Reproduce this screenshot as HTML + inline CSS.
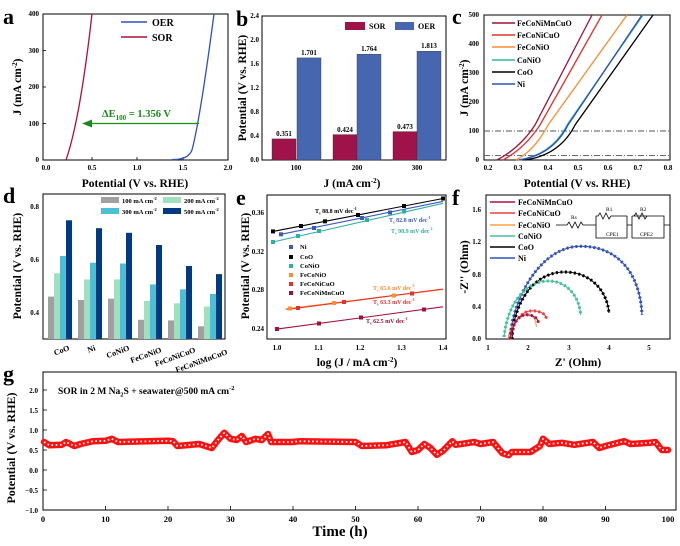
<!DOCTYPE html>
<html><head><meta charset="utf-8"><style>
html,body{margin:0;padding:0;background:#fff}
svg{display:block;font-family:"Liberation Serif",serif;font-weight:bold}
.t{font-size:7px}
.ti{font-size:11.5px}
.L{font-size:22px}
</style></head><body>
<svg width="680" height="546" viewBox="0 0 680 546" xmlns="http://www.w3.org/2000/svg">
<!-- Panel a -->
<text x="3" y="24" class="L">a</text>
<rect x="43" y="14" width="185" height="146" fill="none" stroke="#000" stroke-width="1"/>
<g class="t" text-anchor="end">
<text x="39" y="16">400</text><text x="39" y="53">300</text><text x="39" y="89">200</text><text x="39" y="126">100</text><text x="39" y="162">0</text></g>
<g stroke="#000" stroke-width="0.8"><line x1="43" y1="50.5" x2="46" y2="50.5"/><line x1="43" y1="87" x2="46" y2="87"/><line x1="43" y1="123.5" x2="46" y2="123.5"/>
<line x1="92" y1="160" x2="92" y2="157"/><line x1="137" y1="160" x2="137" y2="157"/><line x1="183" y1="160" x2="183" y2="157"/></g>
<g class="t" text-anchor="middle"><text x="46" y="170">0.0</text><text x="92" y="170">0.5</text><text x="137" y="170">1.0</text><text x="183" y="170">1.5</text><text x="228" y="170">2.0</text></g>
<text x="135" y="187" class="ti" text-anchor="middle">Potential (V vs. RHE)</text>
<text transform="translate(21,87) rotate(-90)" class="ti" text-anchor="middle">J (mA cm<tspan dy="-4" font-size="7">-2</tspan><tspan dy="4">)</tspan></text>
<path d="M66,160 Q80,120 92,14" fill="none" stroke="#b0103a" stroke-width="1.3"/>
<path d="M172,159.5 Q188,160 192,150 Q200,120 214,14" fill="none" stroke="#3050c0" stroke-width="1.3"/>
<line x1="121" y1="22" x2="147" y2="22" stroke="#3050c0" stroke-width="1.5"/><text x="152" y="26" font-size="10">OER</text>
<line x1="121" y1="37" x2="147" y2="37" stroke="#b0103a" stroke-width="1.5"/><text x="152" y="41" font-size="10">SOR</text>
<line x1="199" y1="123.5" x2="88" y2="123.5" stroke="#1a8a1a" stroke-width="1.3"/>
<polygon points="82,123.5 92,119.5 92,127.5" fill="#1a8a1a"/>
<text x="102" y="117" fill="#1a8a1a" font-size="10.5">ΔE<tspan dy="3" font-size="7">100</tspan><tspan dy="-3"> = 1.356 V</tspan></text>

<!-- Panel b -->
<text x="236" y="26" class="L">b</text>
<rect x="262" y="16" width="184" height="144" fill="none" stroke="#000"/>
<g class="t" text-anchor="end" font-size="6.5">
<text x="259" y="18">2.4</text><text x="259" y="42">2.0</text><text x="259" y="66">1.6</text><text x="259" y="90">1.2</text><text x="259" y="114">0.8</text><text x="259" y="138">0.4</text><text x="259" y="162">0.0</text></g>
<g fill="#a0124a" stroke="#333" stroke-width="0.4"><rect x="272" y="138.9" width="24" height="21.1"/><rect x="333" y="134.6" width="24" height="25.4"/><rect x="393" y="131.6" width="24" height="28.4"/></g>
<g fill="#4666b0" stroke="#333" stroke-width="0.4"><rect x="297" y="57.9" width="24" height="102.1"/><rect x="357" y="54.2" width="24" height="105.8"/><rect x="417" y="51.2" width="24" height="108.8"/></g>
<g class="t" text-anchor="middle" font-size="6.5"><text x="284" y="136">0.351</text><text x="309" y="55">1.701</text><text x="345" y="132">0.424</text><text x="369" y="51">1.764</text><text x="405" y="129">0.473</text><text x="429" y="48">1.813</text>
<text x="296" y="170">100</text><text x="357" y="170">200</text><text x="417" y="170">300</text></g>
<rect x="345" y="22" width="20" height="8" fill="#a0124a"/><text x="369" y="29" font-size="8">SOR</text>
<rect x="395" y="22" width="19" height="8" fill="#4666b0"/><text x="418" y="29" font-size="8">OER</text>
<text x="352" y="187" class="ti" text-anchor="middle">J (mA cm<tspan dy="-4" font-size="7">-2</tspan><tspan dy="4">)</tspan></text>
<text transform="translate(246,88) rotate(-90)" class="ti" text-anchor="middle">Potential (V vs. RHE)</text>

<!-- Panel c -->
<text x="452" y="24" class="L">c</text>
<rect x="484" y="15" width="186" height="145" fill="none" stroke="#000"/>
<g class="t" text-anchor="end"><text x="479" y="17">500</text><text x="479" y="46">400</text><text x="479" y="75">300</text><text x="479" y="104">200</text><text x="479" y="133">100</text><text x="479" y="162">0</text></g>
<g class="t" text-anchor="middle"><text x="488" y="170">0.2</text><text x="518" y="170">0.3</text><text x="548" y="170">0.4</text><text x="578" y="170">0.5</text><text x="608" y="170">0.6</text><text x="638" y="170">0.7</text><text x="668" y="170">0.8</text></g>
<text x="577" y="187" class="ti" text-anchor="middle">Potential (V vs. RHE)</text>
<text transform="translate(468,88) rotate(-90)" class="ti" text-anchor="middle">J (mA cm<tspan dy="-4" font-size="7">-2</tspan><tspan dy="4">)</tspan></text>
<g stroke="#555" stroke-width="0.9" stroke-dasharray="6 2 1 2"><line x1="484" y1="131" x2="670" y2="131"/><line x1="484" y1="155.6" x2="670" y2="155.6"/></g>
<g fill="none" stroke-width="1.3">
<path d="M525,160 Q560,155 575,125 L653,15" stroke="#000"/>
<path d="M518,160 Q552,155 567,125 L643,15" stroke="#30b8a0"/>
<path d="M519,160 Q553,155 568,125 L642,15" stroke="#2850c0"/>
<path d="M516,160 Q535,150 548,125 L627,15" stroke="#ff8c30"/>
<path d="M503,160 Q525,148 540,125 L602,15" stroke="#e8302a"/>
<path d="M497,160 Q520,148 535,125 L592,15" stroke="#a0103a"/></g>
<g stroke-width="1.5"><line x1="492" y1="23" x2="515" y2="23" stroke="#a0103a"/><line x1="492" y1="35" x2="515" y2="35" stroke="#e8302a"/><line x1="492" y1="47" x2="515" y2="47" stroke="#ff8c30"/><line x1="492" y1="60" x2="515" y2="60" stroke="#30b8a0"/><line x1="492" y1="72" x2="515" y2="72" stroke="#000"/><line x1="492" y1="84" x2="515" y2="84" stroke="#2850c0"/></g>
<g font-size="8"><text x="517" y="26">FeCoNiMnCuO</text><text x="517" y="38">FeCoNiCuO</text><text x="517" y="50">FeCoNiO</text><text x="517" y="63">CoNiO</text><text x="517" y="75">CoO</text><text x="517" y="87">Ni</text></g>

<!-- Panel d -->
<text x="3" y="203" class="L">d</text>
<rect x="43" y="194" width="182" height="145" fill="none" stroke="#000"/>
<g class="t" text-anchor="end"><text x="39" y="209">0.8</text><text x="39" y="262">0.6</text><text x="39" y="315">0.4</text></g>
<g>
<g fill="#a0a0a0"><rect x="48" y="296.6" width="6" height="42.4"/><rect x="78" y="300" width="6" height="39"/><rect x="108" y="298.7" width="6" height="40.3"/><rect x="138" y="319.8" width="6" height="19.2"/><rect x="168" y="320.4" width="6" height="18.6"/><rect x="198" y="326.3" width="6" height="12.7"/></g>
<g fill="#9fe0c0"><rect x="54" y="273.3" width="6" height="65.7"/><rect x="84" y="279.4" width="6" height="59.6"/><rect x="114" y="279.4" width="6" height="59.6"/><rect x="144" y="300.9" width="6" height="38.1"/><rect x="174" y="303.3" width="6" height="35.7"/><rect x="204" y="306.6" width="6" height="32.4"/></g>
<g fill="#4bbfd6"><rect x="60" y="256" width="6" height="83"/><rect x="90" y="262.7" width="6" height="76.3"/><rect x="120" y="263.5" width="6" height="75.5"/><rect x="150" y="284.4" width="6" height="54.6"/><rect x="180" y="289.3" width="6" height="49.7"/><rect x="210" y="294" width="6" height="45"/></g>
<g fill="#003a80"><rect x="66" y="220.3" width="6" height="118.7"/><rect x="96" y="228.2" width="6" height="110.8"/><rect x="126" y="232.8" width="6" height="106.2"/><rect x="156" y="245" width="6" height="94"/><rect x="186" y="266" width="6" height="73"/><rect x="216" y="274.1" width="6" height="64.9"/></g>
</g>
<rect x="101" y="197" width="18" height="6" fill="#a0a0a0"/><text x="122" y="203" font-size="6.5">100 mA cm<tspan dy="-3" font-size="4.5">-2</tspan></text>
<rect x="163" y="197" width="18" height="6" fill="#9fe0c0"/><text x="184" y="203" font-size="6.5">200 mA cm<tspan dy="-3" font-size="4.5">-2</tspan></text>
<rect x="101" y="208" width="18" height="6" fill="#4bbfd6"/><text x="122" y="214" font-size="6.5">300 mA cm<tspan dy="-3" font-size="4.5">-2</tspan></text>
<rect x="163" y="208" width="18" height="6" fill="#003a80"/><text x="184" y="214" font-size="6.5">500 mA cm<tspan dy="-3" font-size="4.5">-2</tspan></text>
<g font-size="8" text-anchor="end">
<text transform="translate(70,350) rotate(-20)">CoO</text><text transform="translate(96,350) rotate(-20)">Ni</text><text transform="translate(130,350) rotate(-20)">CoNiO</text><text transform="translate(162,352) rotate(-20)">FeCoNiO</text><text transform="translate(196,352) rotate(-20)">FeCoNiCuO</text><text transform="translate(228,354) rotate(-20)">FeCoNiMnCuO</text></g>
<text transform="translate(21,266) rotate(-90)" class="ti" text-anchor="middle">Potential (V vs. RHE)</text>

<!-- Panel e -->
<text x="236" y="205" class="L">e</text>
<rect x="267" y="195" width="179" height="144" fill="none" stroke="#000"/>
<g class="t" text-anchor="end" font-size="6.5"><text x="264" y="215">0.36</text><text x="264" y="254">0.32</text><text x="264" y="292">0.28</text><text x="264" y="331">0.24</text></g>
<g class="t" text-anchor="middle"><text x="277" y="350">1.0</text><text x="318.5" y="350">1.1</text><text x="360" y="350">1.2</text><text x="401.5" y="350">1.3</text><text x="443" y="350">1.4</text></g>
<text x="357" y="366" class="ti" text-anchor="middle">log (J / mA cm<tspan dy="-4" font-size="7">-2</tspan><tspan dy="4">)</tspan></text>
<text transform="translate(249,266) rotate(-90)" class="ti" text-anchor="middle">Potential (V vs. RHE)</text>
<g stroke-width="1.1">
<line x1="273" y1="231.4" x2="443" y2="198.5" stroke="#000"/>
<line x1="281" y1="234.3" x2="443" y2="201.4" stroke="#3a5ac0"/>
<line x1="273" y1="242" x2="443" y2="203.3" stroke="#30b0a0"/>
<line x1="285" y1="309" x2="443" y2="289.4" stroke="#ff8c30"/>
<line x1="287" y1="309.5" x2="443" y2="289" stroke="#e8302a"/>
<line x1="277" y1="329.1" x2="443" y2="306.8" stroke="#a0103a"/></g>
<g fill="#000"><rect x="271" y="229.4" width="4" height="4"/><rect x="299" y="224" width="4" height="4"/><rect x="323" y="219.3" width="4" height="4"/><rect x="356" y="213" width="4" height="4"/><rect x="402" y="204" width="4" height="4"/><rect x="441" y="196.5" width="4" height="4"/></g>
<g fill="#3a5ac0"><rect x="279" y="232.3" width="4" height="4"/><rect x="312" y="226" width="4" height="4"/><rect x="360" y="216" width="4" height="4"/><rect x="388" y="210.5" width="4" height="4"/></g>
<g fill="#30b0a0"><rect x="271" y="240" width="4" height="4"/><rect x="296" y="234" width="4" height="4"/><rect x="317" y="229" width="4" height="4"/><rect x="365" y="218" width="4" height="4"/><rect x="402" y="209.5" width="4" height="4"/></g>
<g fill="#ff8c30"><rect x="288" y="306.5" width="4" height="4"/><rect x="332" y="301" width="4" height="4"/><rect x="392" y="293.5" width="4" height="4"/></g>
<g fill="#e8302a"><rect x="296" y="306" width="4" height="4"/><rect x="342" y="300" width="4" height="4"/><rect x="410" y="291.5" width="4" height="4"/></g>
<g fill="#a0103a"><rect x="275" y="327" width="4" height="4"/><rect x="317" y="321.5" width="4" height="4"/><rect x="359" y="315.5" width="4" height="4"/><rect x="422" y="307.5" width="4" height="4"/></g>
<g font-size="6.5">
<rect x="289" y="245" width="4" height="4" fill="#3a5ac0"/><text x="300" y="249">Ni</text>
<rect x="289" y="255" width="4" height="4" fill="#000"/><text x="300" y="259">CoO</text>
<rect x="289" y="264" width="4" height="4" fill="#30b0a0"/><text x="300" y="268">CoNiO</text>
<rect x="289" y="273" width="4" height="4" fill="#ff8c30"/><text x="300" y="277">FeCoNiO</text>
<rect x="289" y="282" width="4" height="4" fill="#e8302a"/><text x="300" y="286">FeCoNiCuO</text>
<rect x="289" y="291" width="4" height="4" fill="#a0103a"/><text x="300" y="295">FeCoNiMnCuO</text></g>
<g font-size="6"><text x="315" y="213">T<tspan dy="1.5" font-size="4">s</tspan><tspan dy="-1.5"> 88.8 mV dec</tspan><tspan dy="-3" font-size="4">-1</tspan></text>
<text x="389" y="222" fill="#3a5ac0">T<tspan dy="1.5" font-size="4">s</tspan><tspan dy="-1.5"> 82.8 mV dec</tspan><tspan dy="-3" font-size="4">-1</tspan></text>
<text x="391" y="233" fill="#30b0a0">T<tspan dy="1.5" font-size="4">s</tspan><tspan dy="-1.5"> 98.9 mV dec</tspan><tspan dy="-3" font-size="4">-1</tspan></text>
<text x="373" y="290" fill="#ff8c30">T<tspan dy="1.5" font-size="4">s</tspan><tspan dy="-1.5"> 65.6 mV dec</tspan><tspan dy="-3" font-size="4">-1</tspan></text>
<text x="373" y="304" fill="#e8302a">T<tspan dy="1.5" font-size="4">s</tspan><tspan dy="-1.5"> 63.3 mV dec</tspan><tspan dy="-3" font-size="4">-1</tspan></text>
<text x="366" y="323" fill="#a0103a">T<tspan dy="1.5" font-size="4">s</tspan><tspan dy="-1.5"> 62.5 mV dec</tspan><tspan dy="-3" font-size="4">-1</tspan></text></g>

<!-- Panel f -->
<text x="452" y="205" class="L">f</text>
<rect x="486" y="195" width="184" height="144" fill="none" stroke="#000"/>
<g class="t" text-anchor="end"><text x="481" y="212">1.6</text><text x="481" y="244">1.2</text><text x="481" y="277">0.8</text><text x="481" y="309">0.4</text><text x="481" y="341">0.0</text></g>
<g class="t" text-anchor="middle"><text x="488" y="350">1</text><text x="528" y="350">2</text><text x="569" y="350">3</text><text x="609" y="350">4</text><text x="649" y="350">5</text></g>
<text x="578" y="366" class="ti" text-anchor="middle">Z' (Ohm)</text>
<text transform="translate(468,267) rotate(-90)" class="ti" text-anchor="middle">-Z'' (Ohm)</text>
<g fill="none" stroke-width="1.1">
<path d="M510,339 C512,300 540,246 580.7,246.3 C615,246 640,270 642,315" stroke="#3050c0"/>
<path d="M512,339 C514,300 535,272 564.6,272 C590,272 607,290 609,313" stroke="#000"/>
<path d="M504,337 C508,300 528,281 548.5,281 C566,281 579,295 580.7,315" stroke="#40c0a0"/>
<path d="M508,339 C510,325 518,314.8 528.3,314.8 C533,314.8 536,320 536.4,327" stroke="#ffa040"/>
<path d="M510,339 C512,325 520,310.8 532.3,310.8 C540,310.8 546,314 546.4,319" stroke="#f04040"/>
<path d="M510,339 C512,325 518,314.8 526.3,314.8 C533,314.8 538,318 538.4,323" stroke="#b01040"/>
</g>
<g fill="none" stroke-width="3" stroke-dasharray="2 2.5">
<path d="M510,339 C512,300 540,246 580.7,246.3 C615,246 640,270 642,315" stroke="#3050c0"/>
<path d="M512,339 C514,300 535,272 564.6,272 C590,272 607,290 609,313" stroke="#000"/>
<path d="M504,337 C508,300 528,281 548.5,281 C566,281 579,295 580.7,315" stroke="#40c0a0"/>
<path d="M510,339 C512,325 520,310.8 532.3,310.8 C540,310.8 546,314 546.4,319" stroke="#f04040"/>
<path d="M510,339 C512,325 518,314.8 526.3,314.8 C533,314.8 538,318 538.4,323" stroke="#b01040"/>
</g>
<g stroke-width="1.5"><line x1="490" y1="202" x2="515" y2="202" stroke="#b01040"/><line x1="490" y1="213" x2="515" y2="213" stroke="#f04040"/><line x1="490" y1="225" x2="515" y2="225" stroke="#ffa040"/><line x1="490" y1="236" x2="515" y2="236" stroke="#40c0a0"/><line x1="490" y1="247" x2="515" y2="247" stroke="#000"/><line x1="490" y1="258" x2="515" y2="258" stroke="#3050c0"/></g>
<g font-size="8"><text x="518" y="205">FeCoNiMnCuO</text><text x="518" y="216">FeCoNiCuO</text><text x="518" y="228">FeCoNiO</text><text x="518" y="239">CoNiO</text><text x="518" y="250">CoO</text><text x="518" y="261">Ni</text></g>
<g fill="none" stroke="#000" stroke-width="0.8">
<path d="M556,225 L567,225 l2,-3 l3,6 l3,-6 l3,6 l3,-6 l2,3 L596,225 M596,225 L596,216 L598,216 l2,-3 l3,6 l3,-6 l3,6 l2,-3 L627,216 M596,225 L596,238 L627,238 M627,216 L627,238 M627,225 L632,225 M632,216 L632,238 L664,238 L664,216 L632,216 M634,216 l2,-3 l3,6 l3,-6 l3,6 l2,-3 M664,225 L670,225"/></g>
<g font-size="5.5" font-weight="normal"><text x="571" y="219">Rs</text><text x="606" y="211">R1</text><text x="606" y="236">CPE1</text><text x="640" y="211">R2</text><text x="640" y="236">CPE2</text></g>

<!-- Panel g -->
<text x="3" y="381" class="L">g</text>
<rect x="43" y="372" width="633" height="138" fill="none" stroke="#000"/>
<g class="t" text-anchor="end" font-size="8"><text x="38" y="393">2.0</text><text x="38" y="413">1.5</text><text x="38" y="433">1.0</text><text x="38" y="453">0.5</text><text x="38" y="473">0.0</text><text x="38" y="493">−0.5</text><text x="38" y="513">−1.0</text></g>
<g stroke="#000" stroke-width="0.8"><line x1="43" y1="390" x2="47" y2="390"/><line x1="43" y1="410" x2="47" y2="410"/><line x1="43" y1="430" x2="47" y2="430"/><line x1="43" y1="450" x2="47" y2="450"/><line x1="43" y1="470" x2="47" y2="470"/><line x1="43" y1="490" x2="47" y2="490"/>
<line x1="105.5" y1="510" x2="105.5" y2="506"/><line x1="168" y1="510" x2="168" y2="506"/><line x1="230.5" y1="510" x2="230.5" y2="506"/><line x1="293" y1="510" x2="293" y2="506"/><line x1="355.5" y1="510" x2="355.5" y2="506"/><line x1="418" y1="510" x2="418" y2="506"/><line x1="480.5" y1="510" x2="480.5" y2="506"/><line x1="543" y1="510" x2="543" y2="506"/><line x1="605.5" y1="510" x2="605.5" y2="506"/></g>
<g font-size="8.5" text-anchor="middle"><text x="43" y="522">0</text><text x="105.5" y="522">10</text><text x="168" y="522">20</text><text x="230.5" y="522">30</text><text x="293" y="522">40</text><text x="355.5" y="522">50</text><text x="418" y="522">60</text><text x="480.5" y="522">70</text><text x="543" y="522">80</text><text x="605.5" y="522">90</text><text x="668" y="522">100</text></g>
<text x="340" y="536" font-size="15" text-anchor="middle">Time (h)</text>
<text transform="translate(15,448) rotate(-90)" font-size="12" text-anchor="middle">Potential (V vs. RHE)</text>
<text x="58" y="394" font-size="9.5">SOR in 2 M Na<tspan dy="2.5" font-size="6.5">2</tspan><tspan dy="-2.5">S + seawater@500 mA cm</tspan><tspan dy="-4" font-size="6.5">-2</tspan></text>
<polyline fill="none" stroke="#ff1010" stroke-width="6.5" stroke-linejoin="round" stroke-linecap="round" points="44,442 49.3,445.2 61.8,444.8 66.1,442 74.3,446 80.5,444 93,441.2 105.5,440.8 111.8,438.8 118,442 168,440.8 173,441.2 177.4,446 199.3,444 205.5,446 211.8,448 218,440 224.3,432.8 230.5,438.8 236.8,440 241.8,436 246.1,442 255.5,438.8 261.8,440 268,434 271.1,442 293,442 299.3,441.2 355.5,442 361.8,446 386.8,445.2 405.5,442 411.8,452 418,450 424.3,444 430.5,448 436.8,454.8 443,450.8 452.4,441.2 455.5,444.8 474.3,442 480.5,444 493,442 498,448 502.4,453.2 508.6,455.2 511.8,452 530.5,452 539.9,446 543,438.8 549.3,444 561.8,442.8 574.3,444.8 593,442 599.3,448 605.5,446 624.3,441.2 630.5,444 649.3,442.8 655.5,442 661.8,450 668,450"/>
<polyline fill="none" stroke="#fff" stroke-width="1.8" stroke-dasharray="1.6 2.6" stroke-linejoin="round" points="44,442 49.3,445.2 61.8,444.8 66.1,442 74.3,446 80.5,444 93,441.2 105.5,440.8 111.8,438.8 118,442 168,440.8 173,441.2 177.4,446 199.3,444 205.5,446 211.8,448 218,440 224.3,432.8 230.5,438.8 236.8,440 241.8,436 246.1,442 255.5,438.8 261.8,440 268,434 271.1,442 293,442 299.3,441.2 355.5,442 361.8,446 386.8,445.2 405.5,442 411.8,452 418,450 424.3,444 430.5,448 436.8,454.8 443,450.8 452.4,441.2 455.5,444.8 474.3,442 480.5,444 493,442 498,448 502.4,453.2 508.6,455.2 511.8,452 530.5,452 539.9,446 543,438.8 549.3,444 561.8,442.8 574.3,444.8 593,442 599.3,448 605.5,446 624.3,441.2 630.5,444 649.3,442.8 655.5,442 661.8,450 668,450"/>
</svg>
</body></html>
